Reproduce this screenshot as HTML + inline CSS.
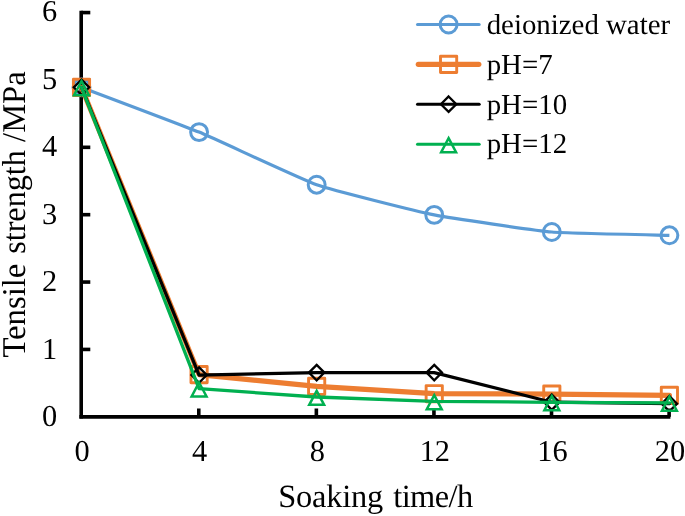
<!DOCTYPE html>
<html><head><meta charset="utf-8"><title>Tensile strength vs soaking time</title>
<style>
html,body{margin:0;padding:0;background:#fff;}
body{width:685px;height:516px;overflow:hidden;font-family:"Liberation Serif",serif;}
svg{display:block}
text{font-family:"Liberation Serif",serif;fill:#000;text-rendering:geometricPrecision}
svg{opacity:0.999;will-change:transform}
.tk{font-size:30.4px}
.ti{font-size:32.4px}
.tiy{font-size:33.2px}
.lg{font-size:28.85px}
</style></head><body>
<svg width="685" height="516" viewBox="0 0 685 516">
<rect width="685" height="516" fill="#fff"/>
<g stroke="#000" stroke-width="3.6" fill="none" stroke-linecap="butt">
<path d="M81.2 10.7 V418.6"/>
<path d="M79.4 416.85 H670.4" stroke-width="3.75"/>
<path d="M81.2 349.43 H90.3"/>
<path d="M81.2 282.06 H90.3"/>
<path d="M81.2 214.69 H90.3"/>
<path d="M81.2 147.32 H90.3"/>
<path d="M81.2 79.95 H90.3"/>
<path d="M81.2 12.58 H90.3"/>
<path d="M198.78 408.5 V416.8"/>
<path d="M316.36 408.5 V416.8"/>
<path d="M433.94 408.5 V416.8"/>
<path d="M551.52 408.5 V416.8"/>
<path d="M669.10 408.5 V416.8"/>
</g>
<text class="tk" x="57.2" y="426.40" text-anchor="end">0</text>
<text class="tk" x="57.2" y="358.91" text-anchor="end">1</text>
<text class="tk" x="57.2" y="291.42" text-anchor="end">2</text>
<text class="tk" x="57.2" y="223.93" text-anchor="end">3</text>
<text class="tk" x="57.2" y="156.44" text-anchor="end">4</text>
<text class="tk" x="57.2" y="88.95" text-anchor="end">5</text>
<text class="tk" x="57.2" y="21.46" text-anchor="end">6</text>
<text class="tk" x="82.10" y="461.4" text-anchor="middle">0</text>
<text class="tk" x="199.68" y="461.4" text-anchor="middle">4</text>
<text class="tk" x="317.26" y="461.4" text-anchor="middle">8</text>
<text class="tk" x="434.84" y="461.4" text-anchor="middle">12</text>
<text class="tk" x="552.42" y="461.4" text-anchor="middle">16</text>
<text class="tk" x="670.00" y="461.4" text-anchor="middle">20</text>
<text class="ti" x="278.3" y="507.2" textLength="104.8" lengthAdjust="spacing">Soaking</text>
<text class="ti" x="393.2" y="507.2" textLength="80" lengthAdjust="spacing">time/h</text>
<text class="tiy" transform="translate(24.7 357.60) rotate(-90)" textLength="94.00" lengthAdjust="spacingAndGlyphs">Tensile</text>
<text class="tiy" transform="translate(24.7 253.80) rotate(-90)" textLength="103.60" lengthAdjust="spacingAndGlyphs">strength</text>
<text class="tiy" transform="translate(24.7 141.90) rotate(-90)" textLength="70.60" lengthAdjust="spacingAndGlyphs">/MPa</text>
<g fill="none" stroke-linejoin="round" stroke-linecap="butt">
<path d="M81.50 87.36 C89.34 90.34 183.40 125.60 199.08 132.09 C214.76 138.58 300.98 179.19 316.66 184.71 C332.34 190.23 418.56 211.74 434.24 214.89 C449.92 218.05 536.14 230.64 551.82 232.00 C567.50 233.36 661.56 235.09 669.40 235.31" stroke="#5B9BD5" stroke-width="3.2"/>
</g>
<circle cx="81.50" cy="87.36" r="8.45" fill="none" stroke="#5B9BD5" stroke-width="3"/>
<circle cx="199.08" cy="132.09" r="8.45" fill="none" stroke="#5B9BD5" stroke-width="3"/>
<circle cx="316.66" cy="184.71" r="8.45" fill="none" stroke="#5B9BD5" stroke-width="3"/>
<circle cx="434.24" cy="214.89" r="8.45" fill="none" stroke="#5B9BD5" stroke-width="3"/>
<circle cx="551.82" cy="232.00" r="8.45" fill="none" stroke="#5B9BD5" stroke-width="3"/>
<circle cx="669.40" cy="235.31" r="8.45" fill="none" stroke="#5B9BD5" stroke-width="3"/>
<path d="M81.50 87.36 L199.08 374.63 L316.66 386.42 L434.24 393.69 L551.82 394.10 L669.40 395.38" fill="none" stroke="#ED7D31" stroke-width="5.2" stroke-linejoin="round" stroke-linecap="round"/>
<rect x="73.40" y="79.26" width="16.20" height="16.20" fill="none" stroke="#ED7D31" stroke-width="2.9" stroke-linejoin="round"/>
<rect x="190.98" y="366.53" width="16.20" height="16.20" fill="none" stroke="#ED7D31" stroke-width="2.9" stroke-linejoin="round"/>
<rect x="308.56" y="378.32" width="16.20" height="16.20" fill="none" stroke="#ED7D31" stroke-width="2.9" stroke-linejoin="round"/>
<rect x="426.14" y="385.59" width="16.20" height="16.20" fill="none" stroke="#ED7D31" stroke-width="2.9" stroke-linejoin="round"/>
<rect x="543.72" y="386.00" width="16.20" height="16.20" fill="none" stroke="#ED7D31" stroke-width="2.9" stroke-linejoin="round"/>
<rect x="661.30" y="387.28" width="16.20" height="16.20" fill="none" stroke="#ED7D31" stroke-width="2.9" stroke-linejoin="round"/>
<path d="M81.50 87.36 L199.08 375.03 L316.66 372.61 L434.24 372.61 L551.82 402.18 L669.40 403.66" fill="none" stroke="#000" stroke-width="3.2" stroke-linejoin="round" stroke-linecap="round"/>
<path d="M81.50 79.66 L89.20 87.36 L81.50 95.06 L73.80 87.36Z" fill="none" stroke="#000" stroke-width="2.3" stroke-linejoin="miter"/>
<path d="M199.08 367.33 L206.78 375.03 L199.08 382.73 L191.38 375.03Z" fill="none" stroke="#000" stroke-width="2.3" stroke-linejoin="miter"/>
<path d="M316.66 364.91 L324.36 372.61 L316.66 380.31 L308.96 372.61Z" fill="none" stroke="#000" stroke-width="2.3" stroke-linejoin="miter"/>
<path d="M434.24 364.91 L441.94 372.61 L434.24 380.31 L426.54 372.61Z" fill="none" stroke="#000" stroke-width="2.3" stroke-linejoin="miter"/>
<path d="M551.82 394.48 L559.52 402.18 L551.82 409.88 L544.12 402.18Z" fill="none" stroke="#000" stroke-width="2.3" stroke-linejoin="miter"/>
<path d="M669.40 395.96 L677.10 403.66 L669.40 411.36 L661.70 403.66Z" fill="none" stroke="#000" stroke-width="2.3" stroke-linejoin="miter"/>
<path d="M81.50 87.36 L199.08 388.64 L316.66 396.99 L434.24 401.30 L551.82 402.32 L669.40 402.92" fill="none" stroke="#00B050" stroke-width="3.3" stroke-linejoin="round" stroke-linecap="round"/>
<path d="M81.50 81.21 L88.95 95.21 L74.05 95.21Z" fill="none" stroke="#00B050" stroke-width="2.5" stroke-linejoin="miter"/>
<path d="M199.08 382.49 L206.53 396.49 L191.63 396.49Z" fill="none" stroke="#00B050" stroke-width="2.5" stroke-linejoin="miter"/>
<path d="M316.66 390.84 L324.11 404.84 L309.21 404.84Z" fill="none" stroke="#00B050" stroke-width="2.5" stroke-linejoin="miter"/>
<path d="M434.24 395.15 L441.69 409.15 L426.79 409.15Z" fill="none" stroke="#00B050" stroke-width="2.5" stroke-linejoin="miter"/>
<path d="M551.82 396.17 L559.27 410.17 L544.37 410.17Z" fill="none" stroke="#00B050" stroke-width="2.5" stroke-linejoin="miter"/>
<path d="M669.40 396.77 L676.85 410.77 L661.95 410.77Z" fill="none" stroke="#00B050" stroke-width="2.5" stroke-linejoin="miter"/>
<path d="M417.50 24.50 H479.20" stroke="#5B9BD5" stroke-width="3" stroke-linecap="round"/>
<circle cx="448.60" cy="24.50" r="8.45" fill="none" stroke="#5B9BD5" stroke-width="3"/>
<path d="M418.30 64.35 H478.80" stroke="#ED7D31" stroke-width="5.2" stroke-linecap="round"/>
<rect x="440.50" y="56.25" width="16.20" height="16.20" fill="none" stroke="#ED7D31" stroke-width="2.9" stroke-linejoin="round"/>
<path d="M417.50 104.20 H479.20" stroke="#000" stroke-width="3" stroke-linecap="round"/>
<path d="M448.60 96.50 L456.30 104.20 L448.60 111.90 L440.90 104.20Z" fill="none" stroke="#000" stroke-width="2.3" stroke-linejoin="miter"/>
<path d="M417.50 144.30 H479.20" stroke="#00B050" stroke-width="3" stroke-linecap="round"/>
<path d="M448.60 138.15 L456.05 152.15 L441.15 152.15Z" fill="none" stroke="#00B050" stroke-width="2.5" stroke-linejoin="miter"/>
<text class="lg" x="486.7" y="33.70">deionized water</text>
<text class="lg" x="486.7" y="73.90">pH=7</text>
<text class="lg" x="486.7" y="113.70">pH=10</text>
<text class="lg" x="486.7" y="153.30">pH=12</text>
</svg></body></html>
